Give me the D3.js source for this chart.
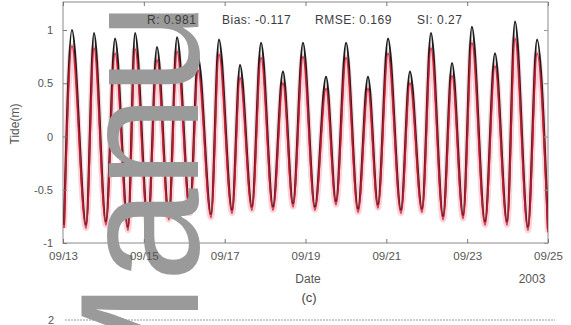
<!DOCTYPE html>
<html>
<head>
<meta charset="utf-8">
<script src="https://cdn.jsdelivr.net/npm/d3@7"></script>
<style>
  html, body { margin: 0; padding: 0; background: #fff; }
  svg { display: block; }
</style>
</head>
<body>
<svg id="chart" width="571" height="325"></svg>
<script>
/* Tide extrema, hours after 2003-09-13 00:00 UTC */
const troughHours = [0.6, 13.7, 25.5, 38.6, 50.5, 62.9, 75.4, 87.9, 100.4, 112.2, 124.7, 136.6,
  149.6, 162.1, 175.2, 187.0, 200.7, 213.2, 225.7, 237.6, 250.6, 263.7, 276.1, 288.0]
const peakHours = [5.3, 18.4, 30.9, 42.8, 55.8, 67.7, 80.2, 92.6, 105.1, 117.6, 130.6, 142.5,
  156.2, 168.1, 181.1, 193.0, 206.0, 218.5, 231.0, 242.8, 256.5, 268.4, 281.5]

/* observed (black) */
const obsTroughs = [-0.83, -0.83, -0.80, -0.85, -0.82, -0.75, -0.69, -0.73, -0.69, -0.66, -0.66, -0.63,
  -0.66, -0.61, -0.68, -0.64, -0.69, -0.68, -0.75, -0.74, -0.80, -0.80, -0.85, -0.87]
const obsPeaks = [1.00, 0.97, 0.92, 0.97, 0.84, 0.93, 0.74, 0.91, 0.67, 0.88, 0.61, 0.88,
  0.56, 0.88, 0.56, 0.92, 0.61, 0.97, 0.69, 1.03, 0.78, 1.08, 0.91]

/* model (red) */
const modTroughs = [-0.86, -0.86, -0.83, -0.88, -0.85, -0.78, -0.72, -0.76, -0.72, -0.69, -0.69, -0.66,
  -0.69, -0.64, -0.71, -0.67, -0.72, -0.71, -0.78, -0.77, -0.83, -0.83, -0.88, -0.90]
const modPeaks = [0.85, 0.83, 0.78, 0.82, 0.72, 0.80, 0.62, 0.77, 0.55, 0.74, 0.50, 0.75,
  0.45, 0.74, 0.45, 0.78, 0.50, 0.83, 0.57, 0.88, 0.66, 0.92, 0.78]

const yTicks = [-1, -0.5, 0, 0.5, 1]
const yTickLabels = ["-1", "-0.5", "0", "0.5", "1"]
const stats = ["R: 0.981", "Bias: -0.117", "RMSE: 0.169", "SI: 0.27"]
const statsX = [147, 222, 315, 417]

/* Chart dimensions etc. */
const marginTop = 2
const marginLeft = 63
const plotRight = 548
const plotBottom = 243
const font = "'Liberation Sans', Arial, sans-serif"

const base = Date.UTC(2003, 8, 13)
const toDate = h => new Date(base + h * 3600e3)

/* zip troughs and peaks into one time-ordered series */
function series(troughs, peaks) {
  const out = []
  troughHours.forEach((h, i) => {
    out.push([toDate(h), troughs[i]])
    if (i < peakHours.length) out.push([toDate(peakHours[i]), peaks[i]])
  })
  return out
}
const obs = series(obsTroughs, obsPeaks)
const mod = series(modTroughs, modPeaks)

const svg = d3.select("#chart")

const x = d3.scaleUtc([new Date(base), toDate(288)], [marginLeft, plotRight])
const y = d3.scaleLinear([-1, 1.263], [plotBottom, marginTop])

const line = d3.line()
.x(d => x(d[0]))
.y(d => y(d[1]))
.curve(d3.curveMonotoneX)

svg.append("clipPath")
.attr("id", "cut-graph")
.append("rect")
.attr("x", marginLeft)
.attr("y", marginTop)
.attr("width", plotRight - marginLeft)
.attr("height", plotBottom - marginTop)

/* frame */
svg.append("rect")
.attr("x", marginLeft)
.attr("y", marginTop)
.attr("width", plotRight - marginLeft)
.attr("height", plotBottom - marginTop)
.attr("fill", "none")
.attr("stroke", "#8a8a8a")
.attr("stroke-width", 1)

/* lines: pink halo, observed, model */
const plot = svg.append("g").attr("clip-path", "url(#cut-graph)")

plot.append("path")
.attr("fill", "none")
.attr("stroke", "#f3a9b6")
.attr("stroke-width", 6)
.attr("stroke-opacity", 0.5)
.attr("d", line(mod))

plot.append("path")
.attr("fill", "none")
.attr("stroke", "#1c1c1c")
.attr("stroke-width", 2.2)
.attr("stroke-linejoin", "round")
.attr("d", line(obs))

plot.append("path")
.attr("fill", "none")
.attr("stroke", "#d3192f")
.attr("stroke-width", 1.8)
.attr("stroke-opacity", 0.85)
.attr("stroke-linejoin", "round")
.attr("d", line(mod))

/* top of the next panel, cut off */
svg.append("line")
.attr("x1", 65).attr("x2", 555)
.attr("y1", 320).attr("y2", 320)
.attr("stroke", "#999")
.attr("stroke-width", 1.2)
.attr("stroke-dasharray", "2,1")

/* watermark, over the lines but under the texts */
svg.append("text")
.attr("transform", "translate(198, 422) rotate(-90)")
.attr("font-family", font)
.attr("font-size", 168)
.attr("fill", "#9a9a9a")
.text("Manuscript")

/* x axis ticks, bottom and top (inward) */
const xTicks = d3.utcDay.every(2).range(new Date(base), toDate(289))

svg.append("g")
.attr("transform", `translate(0, ${plotBottom})`)
.call(d3.axisBottom(x).tickValues(xTicks).tickFormat(d3.utcFormat("%m/%d")).tickSizeInner(-4).tickSizeOuter(0).tickPadding(9))
.call(g => g.select(".domain").remove())
.call(g => g.selectAll(".tick line").attr("stroke", "#777"))
.call(g => g.selectAll(".tick text")
  .attr("font-family", font)
  .attr("font-size", 11.5)
  .attr("fill", "#555"))

svg.append("g")
.attr("transform", `translate(0, ${marginTop})`)
.call(d3.axisTop(x).tickValues(xTicks).tickFormat("").tickSizeInner(-4).tickSizeOuter(0))
.call(g => g.select(".domain").remove())
.call(g => g.selectAll(".tick line").attr("stroke", "#777"))

/* y axis ticks, left and right (inward) */
svg.append("g")
.attr("transform", `translate(${marginLeft},0)`)
.call(d3.axisLeft(y).tickValues(yTicks).tickFormat((d, i) => yTickLabels[i]).tickSizeInner(-4).tickSizeOuter(0).tickPadding(10))
.call(g => g.select(".domain").remove())
.call(g => g.selectAll(".tick line").attr("stroke", "#777"))
.call(g => g.selectAll(".tick text")
  .attr("font-family", font)
  .attr("font-size", 11)
  .attr("fill", "#555"))

svg.append("g")
.attr("transform", `translate(${plotRight},0)`)
.call(d3.axisRight(y).tickValues(yTicks).tickFormat("").tickSizeInner(-4).tickSizeOuter(0))
.call(g => g.select(".domain").remove())
.call(g => g.selectAll(".tick line").attr("stroke", "#999"))

/* axis titles */
svg.append("text")
.attr("transform", `translate(19, 124) rotate(-90)`)
.attr("text-anchor", "middle")
.attr("font-family", font)
.attr("font-size", 12)
.attr("fill", "#555")
.text("Tide(m)")

svg.append("text")
.attr("x", 308).attr("y", 283)
.attr("text-anchor", "middle")
.attr("font-family", font)
.attr("font-size", 12)
.attr("fill", "#555")
.text("Date")

svg.append("text")
.attr("x", 532).attr("y", 283)
.attr("text-anchor", "middle")
.attr("font-family", font)
.attr("font-size", 12)
.attr("fill", "#555")
.text("2003")

svg.append("text")
.attr("x", 309).attr("y", 302)
.attr("text-anchor", "middle")
.attr("font-family", font)
.attr("font-size", 13)
.attr("fill", "#444")
.text("(c)")

svg.append("text")
.attr("x", 54).attr("y", 324)
.attr("text-anchor", "end")
.attr("font-family", font)
.attr("font-size", 11)
.attr("fill", "#555")
.text("2")

/* statistics */
svg.append("g")
.selectAll("text")
.data(stats)
.join("text")
.attr("x", (d, i) => statsX[i])
.attr("y", 24)
.attr("font-family", font)
.attr("font-size", 12)
.attr("letter-spacing", 0.5)
.attr("fill", "#3c3c3c")
.text(d => d)
</script>
</body>
</html>
